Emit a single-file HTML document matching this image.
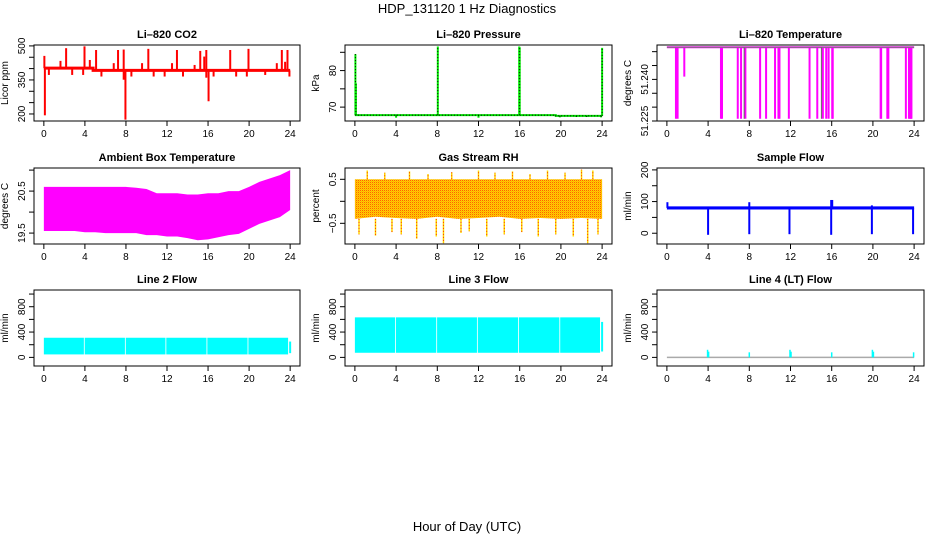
<!DOCTYPE html>
<html><head><meta charset="utf-8">
<style>
html,body{margin:0;padding:0;background:#fff;}
svg{display:block;font-family:"Liberation Sans",Arial,sans-serif;}
</style></head>
<body>
<svg id="chart" width="936" height="540" viewBox="0 0 936 540" xmlns="http://www.w3.org/2000/svg">
<defs>
<pattern id="rhpat" width="2" height="2" patternUnits="userSpaceOnUse">
<rect width="2" height="2" fill="#ffd000"/><rect width="1" height="1" fill="#ff6000"/><rect x="1" y="1" width="1" height="1" fill="#ffb000"/>
</pattern>
</defs>
<text x="467" y="13" text-anchor="middle" font-size="13">HDP_131120  1 Hz Diagnostics</text>
<text x="467" y="531" text-anchor="middle" font-size="13">Hour of Day (UTC)</text>
</svg>
<script>
const NS="http://www.w3.org/2000/svg";
const svg=document.getElementById('chart');
function mk(tag,attrs,parent){const e=document.createElementNS(NS,tag);for(const k in attrs)e.setAttribute(k,attrs[k]);(parent||svg).appendChild(e);return e;}

// ---------- data ----------
const xTicks=[0,4,8,12,16,20,24];
// CO2
const co2BaseHours=[0,4.8,4.8,24];
const co2BaseVals=[402,402,392,392];
const co2SpikeHours=[0.05,0.1,2.17,3.96,5.09,7.23,7.78,10.18,12.97,15.24,15.83,18.16,19.94,23.19,23.74,1.62,4.48,6.81,9.57,12.49,14.69,15.63,22.7,23.51,0.49,2.76,3.83,5.61,7.78,7.95,8.53,10.7,11.77,13.56,15.83,16.05,16.54,18.74,19.78,21.57,23.93];
const co2SpikeVals=[456,194,490,498,482,482,484,487,482,478,482,482,487,482,482,434,438,424,424,424,416,453,424,430,372,372,372,365,351,175,365,365,365,365,360,256,365,365,365,372,365];
// Pressure
const presBaseHours=[0,19.5,19.5,24];
const presBaseVals=[67.8,67.8,67.6,67.6];
const presSpikeHours=[0.05,0.1,8.05,15.95,16.0,23.9,24.0,4.0,12.0,19.9,21.5,22.5];
const presSpikeVals=[84.5,76.5,86.6,86.6,86.4,67.2,86.2,67.1,67.1,67.2,67.3,67.3];
// Li-820 temperature
const ltTop=51.2516, ltBottom=51.2258;
const ltDropHours=[0.88,1.04,1.69,5.25,5.35,6.88,7.2,7.62,9.05,9.63,10.5,10.83,10.93,11.84,13.85,14.6,15.14,15.47,15.7,16.05,16.1,20.75,20.8,21.4,21.5,23.2,23.5,23.6,23.7,23.74];
const ltDropVals=[51.2258,51.2258,51.241,51.2258,51.2258,51.2258,51.2258,51.2258,51.2258,51.2258,51.2258,51.2258,51.2258,51.2258,51.2258,51.2258,51.2258,51.2258,51.2258,51.2258,51.2258,51.2258,51.2258,51.2258,51.2258,51.2258,51.2258,51.2258,51.2258,51.2258];
// Ambient box temperature (hourly envelope)
const ambHours=[0,1,2,3,4,5,6,7,8,9,10,11,12,13,14,15,16,17,18,19,20,21,22,23,24];
const ambUpper=[20.6,20.6,20.6,20.6,20.6,20.6,20.6,20.6,20.6,20.58,20.55,20.45,20.45,20.45,20.42,20.42,20.45,20.45,20.5,20.5,20.6,20.72,20.8,20.88,21.0];
const ambLower=[19.55,19.55,19.55,19.55,19.52,19.52,19.5,19.5,19.5,19.5,19.45,19.45,19.42,19.42,19.38,19.33,19.35,19.4,19.45,19.48,19.6,19.72,19.8,19.88,20.05];
// Gas stream RH
const rhHours=[0,2,4,6,8,10,12,14,16,18,20,22,24];
const rhUpper=[0.5,0.5,0.5,0.5,0.5,0.5,0.5,0.5,0.5,0.5,0.5,0.5,0.5];
const rhLower=[-0.4,-0.35,-0.38,-0.4,-0.35,-0.4,-0.38,-0.35,-0.4,-0.38,-0.4,-0.38,-0.4];
const rhSpikeHours=[0.4,1.2,2.0,2.9,3.6,4.5,5.3,6.0,7.1,7.9,8.6,9.4,10.3,11.1,12.0,12.8,13.6,14.5,15.3,16.2,17.0,17.8,18.7,19.5,20.4,21.2,22.0,22.6,23.1,23.6];
const rhSpikeVals=[-0.75,0.7,-0.78,0.65,-0.7,-0.75,0.68,-0.85,0.62,-0.8,-0.95,0.66,-0.72,-0.68,0.7,-0.8,0.65,-0.75,0.68,-0.7,0.62,-0.8,0.7,-0.75,0.65,-0.8,0.72,-0.95,0.7,-0.75];
// Sample flow
const sfBase=[75,85];
const sfDipHours=[4.0,8.0,11.9,15.95,19.9,23.9];
const sfDipVals=[-5,-3,-3,-5,-3,-3];
const sfUpHours=[0.05,8.0,15.95,16.05,19.9];
const sfUpVals=[98,98,105,105,88];
// Line 2 / 3 flow
const l2Range=[47,310];
const l3Range=[73,632];
const flowGapHours=[3.9,7.9,11.85,15.85,19.85];
const flowEnd=23.8;
// Line 4 flow
const l4SpikeHours=[3.95,4.05,8.0,11.95,12.05,16.0,19.95,20.05,23.95];
const l4SpikeVals=[120,90,80,120,90,80,120,90,80];

// ---------- panels ----------
function panel(cfg){
  const g=mk('g',{});
  
  
  const x=h=>cfg.l+(h+0.96)/25.92*(cfg.r-cfg.l);
  const y=v=>cfg.b-(v-cfg.y0)/(cfg.y1-cfg.y0)*(cfg.b-cfg.t);
  const plot=mk('g',{},g);
  const clip='clip-'+cfg.name;
  const cp=mk('clipPath',{id:clip},g);mk('rect',{x:cfg.l,y:cfg.t,width:cfg.r-cfg.l,height:cfg.b-cfg.t},cp);
  plot.setAttribute('clip-path','url(#'+clip+')');
  const frame=mk('rect',{x:cfg.l,y:cfg.t,width:cfg.r-cfg.l,height:cfg.b-cfg.t,fill:'none',stroke:'#000','stroke-width':1},g);
  
  
  const t=mk('text',{x:(cfg.l+cfg.r)/2,y:cfg.t-7,'text-anchor':'middle','font-size':11,'font-weight':'bold'},g);
  t.textContent=cfg.title;
  
  
  xTicks.forEach(h=>{
    mk('line',{x1:x(h),x2:x(h),y1:cfg.b,y2:cfg.b+5,stroke:'#000'},g);
    const tl=mk('text',{x:x(h),y:cfg.b+16,'text-anchor':'middle','font-size':10},g);tl.textContent=h;
    
    
  });
  cfg.yt.forEach((v,i)=>{
    mk('line',{x1:cfg.l-5,x2:cfg.l,y1:y(v),y2:y(v),stroke:'#000'},g);
    if(cfg.yl[i]!==''){
      const yl=mk('text',{x:0,y:0,'text-anchor':'middle','font-size':10,transform:`translate(${cfg.l-9},${y(v)}) rotate(-90)`},g);yl.textContent=cfg.yl[i];
      
      
    }
  });
  const at=mk('text',{x:0,y:0,'text-anchor':'middle','font-size':10,transform:`translate(${cfg.l-26},${(cfg.t+cfg.b)/2}) rotate(-90)`},g);
  at.textContent=cfg.ytitle;
  
  
  return {x,y,g:plot};
}
const C1=[34,300],C2=[345,612],C3=[657,924];
const R1=[45,121],R2=[168,244],R3=[290,366];

function vline(p,h,a,b,col,w,name){const l=mk('line',{x1:p.x(h),x2:p.x(h),y1:p.y(a),y2:p.y(b),stroke:col,'stroke-width':w||1},p.g);return l;}
function poly(p,hs,vs,col,w,name){const pts=hs.map((h,i)=>p.x(h)+','+p.y(vs[i])).join(' ');const e=mk('polyline',{points:pts,fill:'none',stroke:col,'stroke-width':w||1},p.g);return e;}
function band(p,hs,up,lo,fill,name){const pts=hs.map((h,i)=>p.x(h)+','+p.y(up[i])).concat(hs.slice().reverse().map((h,i)=>p.x(h)+','+p.y(lo[hs.length-1-i]))).join(' ');const e=mk('polygon',{points:pts,fill:fill},p.g);return e;}

// CO2
const p1=panel({name:'co2-panel',title:'Li\u2013820 CO2',ytitle:'Licor ppm',l:C1[0],r:C1[1],t:R1[0],b:R1[1],y0:169,y1:504,yt:[200,250,300,350,400,450,500],yl:['200','','','350','','','500']});
poly(p1,co2BaseHours,co2BaseVals,'#ff0000',3,'co2-baseline');
co2SpikeHours.forEach((h,i)=>{const base=h<4.8?402:392;vline(p1,h,base,co2SpikeVals[i],'#ff0000',2,'co2-spike');});

// Pressure
const p2=panel({name:'pressure-panel',title:'Li\u2013820 Pressure',ytitle:'kPa',l:C2[0],r:C2[1],t:R1[0],b:R1[1],y0:66.2,y1:87.0,yt:[70,75,80,85],yl:['70','','80','']});
poly(p2,presBaseHours,presBaseVals,'#00dd00',2,'pressure-baseline');
poly(p2,presBaseHours,presBaseVals,'#000',1,'pressure-baseline-dots').setAttribute('stroke-dasharray','1 2');
presSpikeHours.forEach((h,i)=>{const base=h<19.5?67.8:67.6;vline(p2,h,base,presSpikeVals[i],'#00ee00',2,'pressure-spike');vline(p2,h,base,presSpikeVals[i],'#000',1,'pressure-spike-dots').setAttribute('stroke-dasharray','1 2');});

// Li-820 temperature
const p3=panel({name:'li820-temp-panel',title:'Li\u2013820 Temperature',ytitle:'degrees C',l:C3[0],r:C3[1],t:R1[0],b:R1[1],y0:51.225,y1:51.2524,yt:[51.225,51.230,51.235,51.240,51.245,51.250],yl:['51.225','','','51.240','','']});
poly(p3,[0,24],[ltTop,ltTop],'#ff00ff',2,'li820-temp-line');
ltDropHours.forEach((h,i)=>vline(p3,h,ltTop,ltDropVals[i],'#ff00ff',2,'li820-temp-drop'));
poly(p3,[0,24],[ltTop,ltTop],'#777',1,'li820-temp-grey');
vline(p3,7.5,ltTop,ltBottom,'#666',1,'li820-temp-grey-drop');vline(p3,15.0,ltTop,ltBottom,'#666',1,'li820-temp-grey-drop');

// Ambient
const p4=panel({name:'ambient-temp-panel',title:'Ambient Box Temperature',ytitle:'degrees C',l:C1[0],r:C1[1],t:R2[0],b:R2[1],y0:19.24,y1:21.05,yt:[19.5,20,20.5,21],yl:['19.5','','20.5','']});
band(p4,ambHours,ambUpper,ambLower,'#ff00ff','ambient-band');

// RH
const p5=panel({name:'rh-panel',title:'Gas Stream RH',ytitle:'percent',l:C2[0],r:C2[1],t:R2[0],b:R2[1],y0:-0.97,y1:0.757,yt:[-0.5,0,0.5],yl:['\u22120.5','','0.5']});
band(p5,rhHours,rhUpper,rhLower,'url(#rhpat)','rh-band');
rhSpikeHours.forEach((h,i)=>{const v=rhSpikeVals[i];vline(p5,h,v>0?0.5:-0.4,v,'#ffdd00',1.5,'rh-spike');vline(p5,h,v>0?0.5:-0.4,v,'#ff3000',1,'rh-spike-dots').setAttribute('stroke-dasharray','1 2');});

// Sample flow
const p6=panel({name:'sample-flow-panel',title:'Sample Flow',ytitle:'ml/min',l:C3[0],r:C3[1],t:R2[0],b:R2[1],y0:-34,y1:206,yt:[0,50,100,150,200],yl:['0','','100','','200']});
band(p6,[0,24],[sfBase[1],sfBase[1]],[sfBase[0],sfBase[0]],'#0000ff','sample-flow-band');
sfDipHours.forEach((h,i)=>vline(p6,h,80,sfDipVals[i],'#0000ff',2,'sample-flow-dip'));
sfUpHours.forEach((h,i)=>vline(p6,h,80,sfUpVals[i],'#0000ff',2,'sample-flow-spike'));

// Line 2 / 3
function flowPanel(cfg,range,tail){
  const p=panel(cfg);
  const starts=[0].concat(flowGapHours.map(g=>g+0.08));
  const ends=flowGapHours.concat([flowEnd]);
  starts.forEach((s,i)=>{const r=mk('rect',{x:p.x(s),y:p.y(range[1]),width:p.x(ends[i])-p.x(s),height:p.y(range[0])-p.y(range[1]),fill:'#00ffff'},p.g);});
  vline(p,24,range[0]+20,tail,'#00ffff',2,'flow-tail');
  return p;
}
const flowTicks=[0,200,400,600,800,1000],flowLabels=['0','','400','','800',''];
flowPanel({name:'line2-flow-panel',title:'Line 2 Flow',ytitle:'ml/min',l:C1[0],r:C1[1],t:R3[0],b:R3[1],y0:-136,y1:1064,yt:flowTicks,yl:flowLabels},l2Range,250);
flowPanel({name:'line3-flow-panel',title:'Line 3 Flow',ytitle:'ml/min',l:C2[0],r:C2[1],t:R3[0],b:R3[1],y0:-136,y1:1064,yt:flowTicks,yl:flowLabels},l3Range,560);

// Line 4
const p9=panel({name:'line4-flow-panel',title:'Line 4 (LT) Flow',ytitle:'ml/min',l:C3[0],r:C3[1],t:R3[0],b:R3[1],y0:-136,y1:1064,yt:flowTicks,yl:flowLabels});
poly(p9,[0,24],[0,0],'#aaaaaa',1.5,'line4-baseline');
l4SpikeHours.forEach((h,i)=>vline(p9,h,0,l4SpikeVals[i],'#00ffff',1.5,'line4-spike'));
</script>
</body></html>
